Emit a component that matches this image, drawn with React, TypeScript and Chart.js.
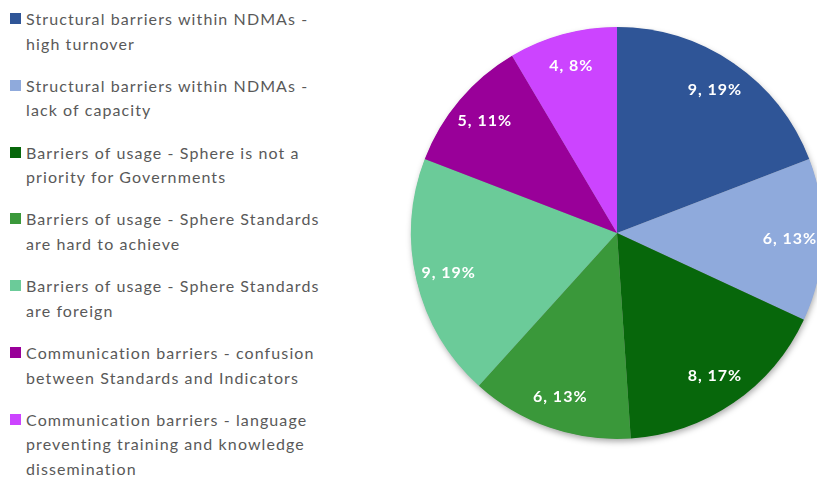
import React, { useEffect, useRef } from "react";
import { Chart, registerables } from "chart.js";

Chart.register(...registerables);

const categories: string[][] = [
  ["Structural barriers within NDMAs -", "high turnover"],
  ["Structural barriers within NDMAs -", "lack of capacity"],
  ["Barriers of usage - Sphere is not a", "priority for Governments"],
  ["Barriers of usage - Sphere Standards", "are hard to achieve"],
  ["Barriers of usage - Sphere Standards", "are foreign"],
  ["Communication barriers - confusion", "between Standards and Indicators"],
  ["Communication barriers - language", "preventing training and knowledge", "dissemination"],
];

const values: number[] = [9, 6, 8, 6, 9, 5, 4];
const percentLabels: string[] = ["19%", "13%", "17%", "13%", "19%", "11%", "8%"];
const colors: string[] = ["#2F5597", "#8FAADC", "#07670B", "#3A983A", "#6BCB99", "#990099", "#CC44FF"];

const FONT = "Lato, 'Open Sans', sans-serif";

const shadowPlugin = {
  id: "pieShadow",
  beforeDatasetsDraw(chart: any) {
    const meta = chart.getDatasetMeta(0);
    const arc = meta.data[0];
    if (!arc) return;
    const { x, y, outerRadius } = arc.getProps(["x", "y", "outerRadius"], true);
    const ctx = chart.ctx;
    ctx.save();
    ctx.shadowColor = "rgba(0,0,0,0.35)";
    ctx.shadowBlur = 6;
    ctx.shadowOffsetX = 1;
    ctx.shadowOffsetY = 3;
    ctx.fillStyle = "#888";
    ctx.beginPath();
    ctx.arc(x, y, outerRadius - 0.5, 0, Math.PI * 2);
    ctx.fill();
    ctx.restore();
  },
};

const labelPlugin = {
  id: "sliceLabels",
  afterDatasetsDraw(chart: any) {
    const meta = chart.getDatasetMeta(0);
    const ctx = chart.ctx;
    ctx.save();
    ctx.font = `bold 16px ${FONT}`;
    (ctx as any).letterSpacing = "1px";
    ctx.fillStyle = "#ffffff";
    ctx.textAlign = "center";
    ctx.textBaseline = "middle";
    meta.data.forEach((arc: any, i: number) => {
      const { x, y, startAngle, endAngle, outerRadius } = arc.getProps(
        ["x", "y", "startAngle", "endAngle", "outerRadius"],
        true
      );
      const mid = (startAngle + endAngle) / 2;
      const r = outerRadius * 0.84;
      ctx.fillText(`${values[i]}, ${percentLabels[i]}`, x + Math.cos(mid) * r, y + Math.sin(mid) * r);
    });
    ctx.restore();
  },
};

export default function App() {
  const canvasRef = useRef<HTMLCanvasElement | null>(null);

  useEffect(() => {
    if (!canvasRef.current) return;
    const chart = new Chart(canvasRef.current, {
      type: "pie",
      data: {
        labels: categories,
        datasets: [
          {
            data: values,
            backgroundColor: colors,
            borderWidth: 0,
          },
        ],
      },
      options: {
        responsive: false,
        animation: false,
        layout: { padding: 10 },
        plugins: {
          legend: { display: false },
          tooltip: { enabled: false },
        },
      },
      plugins: [shadowPlugin, labelPlugin],
    });
    return () => chart.destroy();
  }, []);

  return (
    <div
      style={{
        position: "fixed",
        left: 0,
        top: 0,
        width: 817,
        height: 480,
        overflow: "hidden",
        background: "#ffffff",
      }}
    >
      {categories.map((lines, i) => (
        <div
          key={i}
          style={{
            position: "absolute",
            left: 10,
            top: 7 + i * 66.8,
            fontFamily: FONT,
            fontSize: 16,
            letterSpacing: "1.1px",
            lineHeight: "24.5px",
            color: "#595959",
            whiteSpace: "nowrap",
          }}
        >
          <span
            style={{
              position: "absolute",
              left: 0,
              top: 6,
              width: 11,
              height: 11,
              background: colors[i],
            }}
          />
          <div style={{ marginLeft: 16 }}>
            {lines.map((l, j) => (
              <div key={j}>{l}</div>
            ))}
          </div>
        </div>
      ))}
      <canvas
        ref={canvasRef}
        width={432}
        height={432}
        style={{ position: "absolute", left: 401, top: 17, width: 432, height: 432 }}
      />
    </div>
  );
}
